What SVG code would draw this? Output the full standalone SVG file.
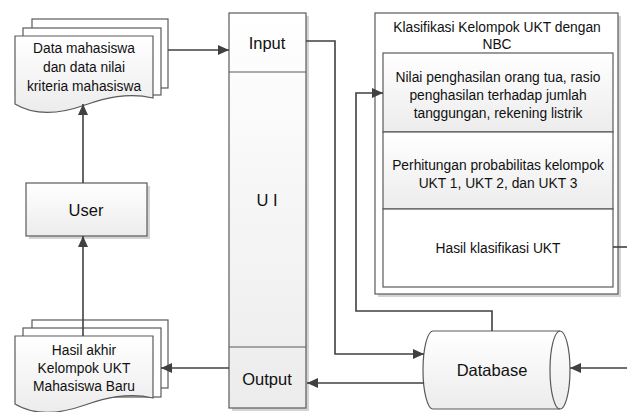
<svg xmlns="http://www.w3.org/2000/svg" width="627" height="412" viewBox="0 0 627 412">
<defs>
<linearGradient id="g" x1="0" y1="0" x2="0" y2="1"><stop offset="0" stop-color="#ffffff"/><stop offset="1" stop-color="#ececec"/></linearGradient>
<marker id="ah" markerUnits="userSpaceOnUse" markerWidth="12" markerHeight="10" refX="11" refY="5" orient="auto"><path d="M0,0 L11,5 L0,10 Z" fill="#404040"/></marker>
<style>
.box{fill:url(#g);stroke:#5a5a5a;stroke-width:1.2}
.pg{fill:#fff;stroke:#5a5a5a;stroke-width:1.2}
.sh{fill:#d4d4d4}
.ln{fill:none;stroke:#404040;stroke-width:1.6}
.ar{fill:none;stroke:#404040;stroke-width:1.6;marker-end:url(#ah)}
text{font-family:"Liberation Sans",Arial,sans-serif;font-size:13.8px;fill:#111;text-anchor:middle}
.big{font-size:16.5px}
</style>
</defs>
<g id="data-doc">
<rect class="pg" x="32" y="19" width="136" height="69"/>
<rect class="pg" x="23" y="28" width="138" height="67"/>
<path class="box" d="M15,36 H153 V98 C128,92 105,98 85,105 C60,114 35,116 15,104 Z"/>
<text x="84" y="53">Data mahasiswa</text>
<text x="84" y="72">dan data nilai</text>
<text x="84" y="91">kriteria mahasiswa</text>
</g>
<g id="user">
<rect class="sh" x="29" y="186" width="121" height="53"/>
<rect class="box" x="26" y="183" width="121" height="53"/>
<text class="big" x="86" y="216">User</text>
</g>
<g id="hasil-doc">
<rect class="pg" x="32" y="320" width="136" height="68"/>
<rect class="pg" x="23" y="328" width="138" height="69"/>
<path class="box" d="M15,336 H153 V398 C128,392 105,398 85,405 C60,414 35,416 15,404 Z"/>
<text x="84" y="355">Hasil akhir</text>
<text x="84" y="373">Kelompok UKT</text>
<text x="84" y="391">Mahasiswa Baru</text>
</g>
<g id="ui">
<rect class="sh" x="232" y="16" width="77" height="395"/>
<rect class="box" x="229" y="13" width="77" height="395"/>
<line x1="229" y1="72" x2="306" y2="72" stroke="#5a5a5a" stroke-width="1.2"/>
<line x1="229" y1="347" x2="306" y2="347" stroke="#5a5a5a" stroke-width="1.2"/>
<text class="big" x="267" y="49">Input</text>
<text class="big" x="267" y="206">U I</text>
<text class="big" x="267" y="385">Output</text>
</g>
<g id="klasifikasi">
<rect class="sh" x="378" y="16" width="243" height="281"/>
<rect class="box" x="375" y="13" width="243" height="281" style="fill:#fff"/>
<text x="497" y="32">Klasifikasi Kelompok UKT dengan</text>
<text x="497" y="49">NBC</text>
<rect class="box" x="383" y="53" width="230" height="79"/>
<rect class="box" x="383" y="132" width="230" height="77"/>
<rect class="box" x="383" y="209" width="230" height="78" style="fill:#fff"/>
<text x="498" y="82">Nilai penghasilan orang tua, rasio</text>
<text x="498" y="100">penghasilan terhadap jumlah</text>
<text x="498" y="118">tanggungan, rekening listrik</text>
<text x="498" y="170">Perhitungan probabilitas kelompok</text>
<text x="498" y="188">UKT 1, UKT 2, dan UKT 3</text>
<text x="498" y="253">Hasil klasifikasi UKT</text>
</g>
<g id="database">
<path class="box" d="M433,331 H560 A10,39 0 0 1 560,409 H433 A10,39 0 0 1 433,331 Z"/>
<path d="M560,331 A10,39 0 0 0 560,409" fill="none" stroke="#5a5a5a" stroke-width="1.2"/>
<text class="big" x="492" y="376">Database</text>
</g>
<g id="connectors">
<path class="ar" d="M168,50 H229"/>
<path class="ar" d="M83,183 V104"/>
<path class="ar" d="M83,336 V236"/>
<path class="ar" d="M306,41 H335 V354 H424"/>
<path class="ar" d="M492,331 V311 H356 V93 H383"/>
<path class="ar" d="M424,383 H307"/>
<path class="ar" d="M229,368 H161"/>
<path class="ar" d="M627,368 H570"/>
<path class="ln" d="M613,247 H627"/>
</g>
</svg>
